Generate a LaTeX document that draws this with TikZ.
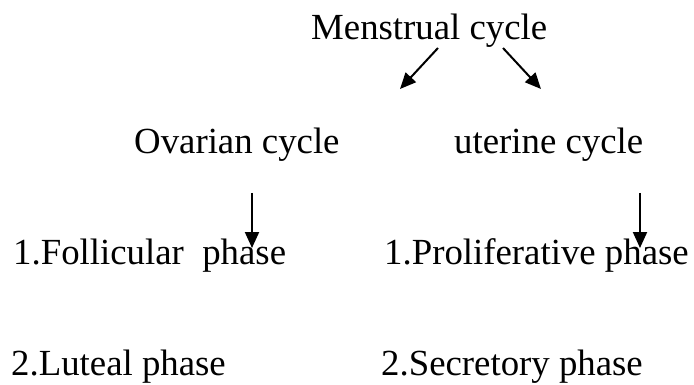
\documentclass[tikz,border=0pt]{standalone}
\usepackage{fontspec}
\setmainfont{Liberation Serif}
\usetikzlibrary{arrows.meta}
\begin{document}
\begin{tikzpicture}[x=1pt, y=-1pt, every node/.style={inner sep=0pt, anchor=base west, font=\fontsize{36.8}{42}\selectfont}, ar/.style={line width=2pt, -{Triangle[length=16pt, width=14pt]}}]
        \useasboundingbox (0, 0) rectangle (694, 385);
        \node (m) at (311, 40) {Menstrual cycle};
        \node (o) at (134, 154) {Ovarian cycle};
        \node (u) at (454, 154) {uterine cycle};
        \node (f) at (13, 265) {1.Follicular\ \ phase};
        \node (p) at (384, 265) {1.Proliferative phase};
        \node (l) at (11, 375) {2.Luteal phase};
        \node (s) at (381, 375) {2.Secretory phase};

        \coordinate (m1) at (438, 48);
        \coordinate (m2) at (400, 89);
        \coordinate (m3) at (503, 48);
        \coordinate (m4) at (541, 89);
        \coordinate (o1) at (252, 193);
        \coordinate (o2) at (252, 248);
        \coordinate (u1) at (640, 193);
        \coordinate (u2) at (640, 248);

        \draw[ar] (m1) -- (m2);
        \draw[ar] (m3) -- (m4);
        \draw[ar] (o1) -- (o2);
        \draw[ar] (u1) -- (u2);
    \end{tikzpicture}
\end{document}
